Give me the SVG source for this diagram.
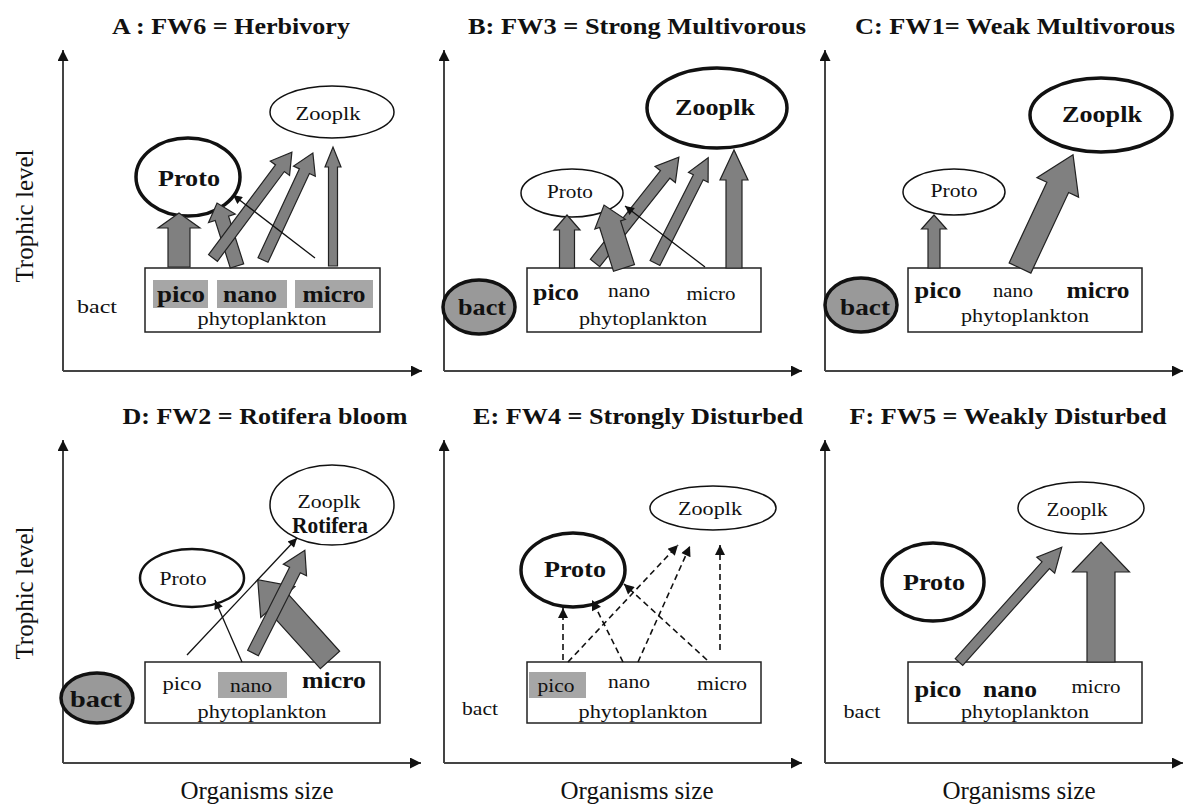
<svg xmlns="http://www.w3.org/2000/svg" width="1184" height="805" viewBox="0 0 1184 805" font-family="'Liberation Serif', 'Times New Roman', serif">
<style>
text{font-family:"Liberation Serif","Times New Roman",serif;fill:#111}
.t{font-size:24px;font-weight:bold;text-anchor:middle}
.ax{font-size:25px;text-anchor:middle}
.n{font-size:19px;text-anchor:middle}
.b{font-size:23px;font-weight:bold;text-anchor:middle}
.axis{stroke:#444;stroke-width:2;fill:none}
.box{fill:#fff;stroke:#222;stroke-width:1.5}
.hl{fill:#a6a6a6}
.thin{fill:#fff;stroke:#111;stroke-width:1.5}
.thick{fill:#fff;stroke:#111;stroke-width:3.5}
.bact{fill:#999;stroke:#111;stroke-width:3.5}
.blk{fill:#808080;stroke:#222;stroke-width:1.2;stroke-linejoin:miter}
.ln{stroke:#111;stroke-width:1.3;fill:none}
.dash{stroke:#111;stroke-width:1.6;fill:none;stroke-dasharray:6 4}
</style>
<defs>
<marker id="ax" viewBox="0 0 10 10" refX="10" refY="5" markerWidth="14" markerHeight="11" markerUnits="userSpaceOnUse" orient="auto"><path d="M0,0 L10,5 L0,10 z" fill="#111"/></marker>
<marker id="ah" viewBox="0 0 10 10" refX="10" refY="5" markerWidth="11" markerHeight="9" markerUnits="userSpaceOnUse" orient="auto"><path d="M0,0 L10,5 L0,10 z" fill="#111"/></marker>
<marker id="ahd" viewBox="0 0 10 10" refX="10" refY="5" markerWidth="13" markerHeight="10" markerUnits="userSpaceOnUse" orient="auto"><path d="M0,0 L10,5 L0,10 z" fill="#111"/></marker>
</defs>
<rect width="1184" height="805" fill="#fff"/>

<g id="titles">
<text class="t" x="231" y="34" textLength="238" lengthAdjust="spacingAndGlyphs">A : FW6 = Herbivory</text>
<text class="t" x="637" y="34" textLength="338" lengthAdjust="spacingAndGlyphs">B: FW3 = Strong Multivorous</text>
<text class="t" x="1015" y="34" textLength="320" lengthAdjust="spacingAndGlyphs">C: FW1= Weak Multivorous</text>
<text class="t" x="265" y="424" textLength="285" lengthAdjust="spacingAndGlyphs">D: FW2 = Rotifera bloom</text>
<text class="t" x="638" y="424" textLength="330" lengthAdjust="spacingAndGlyphs">E: FW4 = Strongly Disturbed</text>
<text class="t" x="1008" y="424" textLength="317" lengthAdjust="spacingAndGlyphs">F: FW5 = Weakly Disturbed</text>
</g>

<g id="axis-labels">
<text class="ax" transform="translate(33,216) rotate(-90)">Trophic level</text>
<text class="ax" transform="translate(33,593) rotate(-90)">Trophic level</text>
<text class="ax" x="257" y="799">Organisms size</text>
<text class="ax" x="637" y="799">Organisms size</text>
<text class="ax" x="1019" y="799">Organisms size</text>
</g>

<g id="axes">
<path class="axis" d="M63,371 L63,50" marker-end="url(#ax)"/>
<path class="axis" d="M63,371 L422,371" marker-end="url(#ax)"/>
<path class="axis" d="M444,371 L444,50" marker-end="url(#ax)"/>
<path class="axis" d="M444,371 L802,371" marker-end="url(#ax)"/>
<path class="axis" d="M825,371 L825,50" marker-end="url(#ax)"/>
<path class="axis" d="M825,371 L1183,371" marker-end="url(#ax)"/>
<path class="axis" d="M63,763 L63,440" marker-end="url(#ax)"/>
<path class="axis" d="M63,763 L421,763" marker-end="url(#ax)"/>
<path class="axis" d="M444,763 L444,440" marker-end="url(#ax)"/>
<path class="axis" d="M444,763 L802,763" marker-end="url(#ax)"/>
<path class="axis" d="M825,763 L825,440" marker-end="url(#ax)"/>
<path class="axis" d="M825,763 L1183,763" marker-end="url(#ax)"/>
</g>

<!-- Panel A -->
<g id="A-phyto">
<rect class="box" x="145" y="268" width="235" height="64"/>
<rect class="hl" x="153" y="280" width="55" height="28"/>
<rect class="hl" x="217" y="280" width="70" height="28"/>
<rect class="hl" x="295" y="280" width="78" height="28"/>
<text class="b" x="181" y="302" textLength="48" lengthAdjust="spacingAndGlyphs">pico</text>
<text class="b" x="250" y="302" textLength="54" lengthAdjust="spacingAndGlyphs">nano</text>
<text class="b" x="334" y="302" textLength="63" lengthAdjust="spacingAndGlyphs">micro</text>
<text class="n" x="262" y="325" textLength="129" lengthAdjust="spacingAndGlyphs">phytoplankton</text>
</g>
<g id="A-bact"><text class="n" x="97" y="313" textLength="40" lengthAdjust="spacingAndGlyphs">bact</text></g>
<g id="A-proto"><ellipse class="thick" cx="188" cy="177" rx="52" ry="39"/><text class="b" x="189" y="186" textLength="62" lengthAdjust="spacingAndGlyphs">Proto</text></g>
<g id="A-zoo"><ellipse class="thin" cx="332" cy="112" rx="62" ry="26"/><text class="n" x="328" y="120" textLength="65" lengthAdjust="spacingAndGlyphs">Zooplk</text></g>

<!-- Panel B -->
<g id="B-phyto">
<rect class="box" x="527" y="268" width="234" height="64"/>
<text class="b" x="556" y="300" textLength="46" lengthAdjust="spacingAndGlyphs">pico</text>
<text class="n" x="629" y="297" textLength="42" lengthAdjust="spacingAndGlyphs">nano</text>
<text class="n" x="711" y="300" textLength="49" lengthAdjust="spacingAndGlyphs">micro</text>
<text class="n" x="643" y="325" textLength="128" lengthAdjust="spacingAndGlyphs">phytoplankton</text>
</g>
<g id="B-bact"><ellipse class="bact" cx="479" cy="307" rx="36" ry="27"/><text class="b" x="482" y="315" textLength="48" lengthAdjust="spacingAndGlyphs">bact</text></g>
<g id="B-proto"><ellipse class="thin" cx="572" cy="193" rx="51" ry="24"/><text class="n" x="570" y="198" textLength="46" lengthAdjust="spacingAndGlyphs">Proto</text></g>
<g id="B-zoo"><ellipse class="thick" cx="717" cy="108" rx="70" ry="40"/><text class="b" x="715" y="115" textLength="80" lengthAdjust="spacingAndGlyphs">Zooplk</text></g>

<!-- Panel C -->
<g id="C-phyto">
<rect class="box" x="908" y="268" width="234" height="64"/>
<text class="b" x="938" y="298" textLength="47" lengthAdjust="spacingAndGlyphs">pico</text>
<text class="n" x="1013" y="297" textLength="40" lengthAdjust="spacingAndGlyphs">nano</text>
<text class="b" x="1098" y="298" textLength="63" lengthAdjust="spacingAndGlyphs">micro</text>
<text class="n" x="1025" y="322" textLength="128" lengthAdjust="spacingAndGlyphs">phytoplankton</text>
</g>
<g id="C-bact"><ellipse class="bact" cx="861" cy="305" rx="36" ry="27"/><text class="b" x="865" y="315" textLength="50" lengthAdjust="spacingAndGlyphs">bact</text></g>
<g id="C-proto"><ellipse class="thin" cx="954" cy="192" rx="51" ry="23"/><text class="n" x="954" y="197" textLength="47" lengthAdjust="spacingAndGlyphs">Proto</text></g>
<g id="C-zoo"><ellipse class="thick" cx="1101" cy="115" rx="71" ry="37"/><text class="b" x="1102" y="122" textLength="80" lengthAdjust="spacingAndGlyphs">Zooplk</text></g>

<!-- Panel D -->
<g id="D-phyto">
<rect class="box" x="145" y="662" width="235" height="61"/>
<rect class="hl" x="218" y="672" width="69" height="26"/>
<text class="n" x="182" y="690" textLength="39" lengthAdjust="spacingAndGlyphs">pico</text>
<text class="n" x="251" y="692" textLength="42" lengthAdjust="spacingAndGlyphs">nano</text>
<text class="b" x="334" y="688" textLength="64" lengthAdjust="spacingAndGlyphs">micro</text>
<text class="n" x="262" y="718" textLength="129" lengthAdjust="spacingAndGlyphs">phytoplankton</text>
</g>
<g id="D-bact"><ellipse class="bact" cx="97" cy="698" rx="36" ry="25"/><text class="b" x="96" y="707" textLength="52" lengthAdjust="spacingAndGlyphs">bact</text></g>
<g id="D-proto"><ellipse class="thick" style="stroke-width:2.5" cx="192" cy="578" rx="52" ry="29"/><text class="n" x="183" y="585" textLength="47" lengthAdjust="spacingAndGlyphs">Proto</text></g>
<g id="D-zoo"><ellipse class="thin" cx="332" cy="505" rx="62" ry="40"/><text class="n" x="329" y="508" textLength="63" lengthAdjust="spacingAndGlyphs">Zooplk</text><text class="b" x="330" y="533" textLength="76" lengthAdjust="spacingAndGlyphs">Rotifera</text></g>

<!-- Panel E -->
<g id="E-phyto">
<rect class="box" x="527" y="662" width="234" height="61"/>
<rect class="hl" x="529" y="672" width="57" height="26"/>
<text class="n" x="556" y="692" textLength="37" lengthAdjust="spacingAndGlyphs">pico</text>
<text class="n" x="629" y="688" textLength="42" lengthAdjust="spacingAndGlyphs">nano</text>
<text class="n" x="722" y="690" textLength="50" lengthAdjust="spacingAndGlyphs">micro</text>
<text class="n" x="643" y="718" textLength="129" lengthAdjust="spacingAndGlyphs">phytoplankton</text>
</g>
<g id="E-bact"><text class="n" x="480" y="715" textLength="36" lengthAdjust="spacingAndGlyphs">bact</text></g>
<g id="E-proto"><ellipse class="thick" cx="573" cy="570" rx="52" ry="37"/><text class="b" x="575" y="577" textLength="62" lengthAdjust="spacingAndGlyphs">Proto</text></g>
<g id="E-zoo"><ellipse class="thin" cx="713" cy="508" rx="63" ry="22"/><text class="n" x="710" y="515" textLength="64" lengthAdjust="spacingAndGlyphs">Zooplk</text></g>

<!-- Panel F -->
<g id="F-phyto">
<rect class="box" x="908" y="662" width="234" height="61"/>
<text class="b" x="938" y="697" textLength="47" lengthAdjust="spacingAndGlyphs">pico</text>
<text class="b" x="1010" y="697" textLength="54" lengthAdjust="spacingAndGlyphs">nano</text>
<text class="n" x="1096" y="693" textLength="49" lengthAdjust="spacingAndGlyphs">micro</text>
<text class="n" x="1025" y="718" textLength="128" lengthAdjust="spacingAndGlyphs">phytoplankton</text>
</g>
<g id="F-bact"><text class="n" x="862" y="718" textLength="37" lengthAdjust="spacingAndGlyphs">bact</text></g>
<g id="F-proto"><ellipse class="thick" cx="933" cy="582" rx="51" ry="39"/><text class="b" x="934" y="590" textLength="62" lengthAdjust="spacingAndGlyphs">Proto</text></g>
<g id="F-zoo"><ellipse class="thin" cx="1081" cy="508" rx="63" ry="26"/><text class="n" x="1077" y="516" textLength="61" lengthAdjust="spacingAndGlyphs">Zooplk</text></g>

<g id="connectors">
<!-- A -->
<polygon class="blk" transform="translate(179,267)" points="-11,0 -11,-39 -21,-39 0,-54 21,-39 11,-39 11,0"/>
<polygon class="blk" transform="translate(237,266) rotate(-17.6)" points="-7,0 -7,-50 -14,-50 0,-66 14,-50 7,-50 7,0"/>
<polygon class="blk" transform="translate(213,258) rotate(36.7)" points="-5.5,0 -5.5,-112 -12,-112 0,-132 12,-112 5.5,-112 5.5,0"/>
<polygon class="blk" transform="translate(263,260) rotate(25)" points="-5.5,0 -5.5,-98 -12,-98 0,-118 12,-98 5.5,-98 5.5,0"/>
<polygon class="blk" transform="translate(333,266)" points="-4.5,0 -4.5,-99 -8,-99 0,-119 8,-99 4.5,-99 4.5,0"/>
<path class="ln" d="M315,258 L233,195" marker-end="url(#ah)"/>
<!-- B -->
<polygon class="blk" transform="translate(567,268)" points="-7.5,0 -7.5,-38 -13,-38 0,-53 13,-38 7.5,-38 7.5,0"/>
<polygon class="blk" transform="translate(595,263) rotate(38.4)" points="-6,0 -6,-113 -13,-113 0,-135 13,-113 6,-113 6,0"/>
<polygon class="blk" transform="translate(624,268) rotate(-17.6)" points="-11,0 -11,-46 -16,-46 0,-66 16,-46 11,-46 11,0"/>
<polygon class="blk" transform="translate(655,263) rotate(26.8)" points="-5.5,0 -5.5,-96 -11,-96 0,-118 11,-96 5.5,-96 5.5,0"/>
<polygon class="blk" transform="translate(734,268)" points="-8,0 -8,-88 -14,-88 0,-118 14,-88 8,-88 8,0"/>
<path class="ln" d="M705,267 L625,206" marker-end="url(#ah)"/>
<!-- C -->
<polygon class="blk" transform="translate(934,268)" points="-6,0 -6,-39 -12.5,-39 0,-53 12.5,-39 6,-39 6,0"/>
<polygon class="blk" transform="translate(1020,268) rotate(25.1)" points="-12,0 -12,-89 -23,-89 0,-125 23,-89 12,-89 12,0"/>
<!-- D -->
<polygon class="blk" transform="translate(330,660) rotate(-42)" points="-13,0 -13,-78 -23,-78 0,-108 23,-78 13,-78 13,0"/>
<polygon class="blk" transform="translate(253,653) rotate(26.8)" points="-6,0 -6,-93 -13,-93 0,-115 13,-93 6,-93 6,0"/>
<path class="ln" d="M187,655 L297,538" marker-end="url(#ah)"/>
<path class="ln" d="M242,662 L215,600" marker-end="url(#ah)"/>
<!-- E -->
<path class="dash" d="M563,660 L563,608" marker-end="url(#ahd)"/>
<path class="dash" d="M568,662 L678,545" marker-end="url(#ahd)"/>
<path class="dash" d="M623,662 L592,600" marker-end="url(#ahd)"/>
<path class="dash" d="M638,662 L690,546" marker-end="url(#ahd)"/>
<path class="dash" d="M707,660 L624,584" marker-end="url(#ahd)"/>
<path class="dash" d="M720,650 L720,545" marker-end="url(#ahd)"/>
<!-- F -->
<polygon class="blk" transform="translate(959,662) rotate(41.85)" points="-5,0 -5,-130 -12,-130 0,-154 12,-130 5,-130 5,0"/>
<polygon class="blk" transform="translate(1101,662)" points="-14,0 -14,-90 -28.5,-90 0,-120 28.5,-90 14,-90 14,0"/>
</g>
</svg>
